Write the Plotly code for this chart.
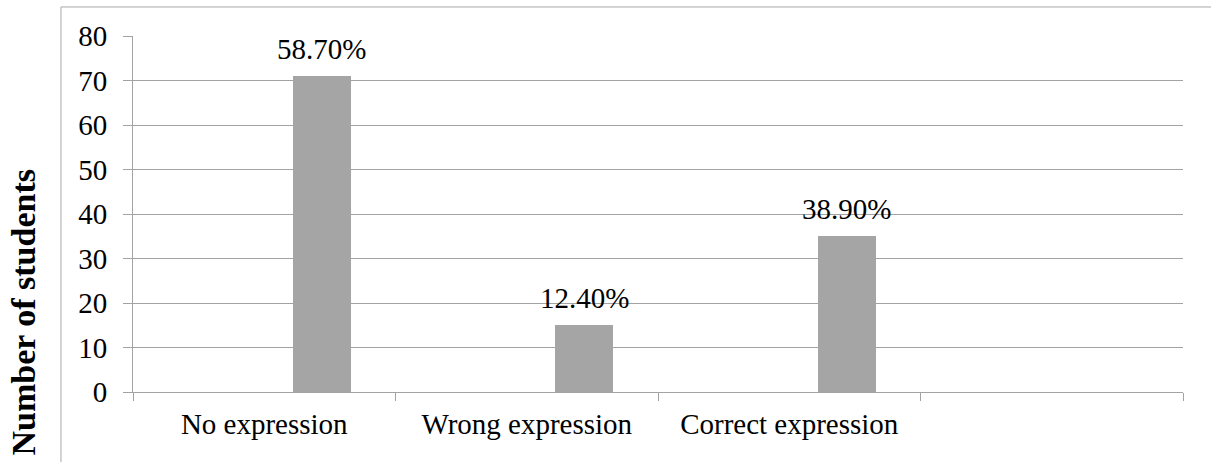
import plotly.graph_objects as go

categories = ["No expression", "Wrong expression", "Correct expression", " "]
students = [71, 15, 35, None]
percent_labels = ["58.70%", "12.40%", "38.90%", ""]
y_ticks = [0, 10, 20, 30, 40, 50, 60, 70, 80]

FONT = "Liberation Serif"
GRID = "#a3a3a3"
BAR = "#a5a5a5"

fig = go.Figure()
fig.add_trace(go.Bar(
    x=categories, y=students,
    width=0.221, offset=0.109,
    marker=dict(color=BAR, line=dict(width=0)),
    hoverinfo="x+y",
))

for c, v, t in zip(categories, students, percent_labels):
    if v is None:
        continue
    fig.add_annotation(
        x=c, y=v, text=t, showarrow=False, xref="x", yref="y",
        yanchor="bottom", xshift=57.5, yshift=9,
        font=dict(family=FONT, size=29, color="#000000"),
    )

fig.add_annotation(
    text="<b>Number of students</b>", textangle=-90, showarrow=False,
    xref="paper", yref="paper", x=-0.1052, y=0.2247,
    xanchor="center", yanchor="middle",
    font=dict(family=FONT, size=34, color="#000000"),
)

# outer chart-area frame (left and top edges)
fig.add_shape(type="line", xref="paper", yref="paper",
              x0=-0.0686, x1=1.05, y0=1.0815, y1=1.0815,
              line=dict(color="#a8a8a8", width=1))
fig.add_shape(type="line", xref="paper", yref="paper",
              x0=-0.0686, x1=-0.0686, y0=1.0815, y1=-0.25,
              line=dict(color="#a8a8a8", width=1))

fig.update_layout(
    width=1211, height=462,
    margin=dict(l=133, r=28, t=36, b=70, autoexpand=False),
    paper_bgcolor="white", plot_bgcolor="white",
    showlegend=False,
    font=dict(family=FONT, size=29, color="#000000"),
    bargap=0,
)
fig.update_xaxes(
    type="category", categoryorder="array", categoryarray=categories,
    range=[-0.5, 3.5],
    tickson="boundaries", ticks="outside", ticklen=8, tickcolor=GRID,
    showline=True, linecolor=GRID, linewidth=1,
    showgrid=False, ticklabelstandoff=6,
    tickfont=dict(family=FONT, size=29, color="#000000"),
)
fig.update_yaxes(
    range=[0, 80], tickvals=y_ticks,
    ticks="outside", ticklen=9, tickcolor=GRID,
    showline=True, linecolor=GRID, linewidth=1,
    showgrid=True, gridcolor=GRID, gridwidth=1,
    zeroline=False, ticklabelstandoff=10,
    tickfont=dict(family=FONT, size=29, color="#000000"),
)

fig.write_html(
    "out.html",
    config={"displayModeBar": False},
    post_script="document.body.style.margin='0';document.body.style.padding='0';",
)
